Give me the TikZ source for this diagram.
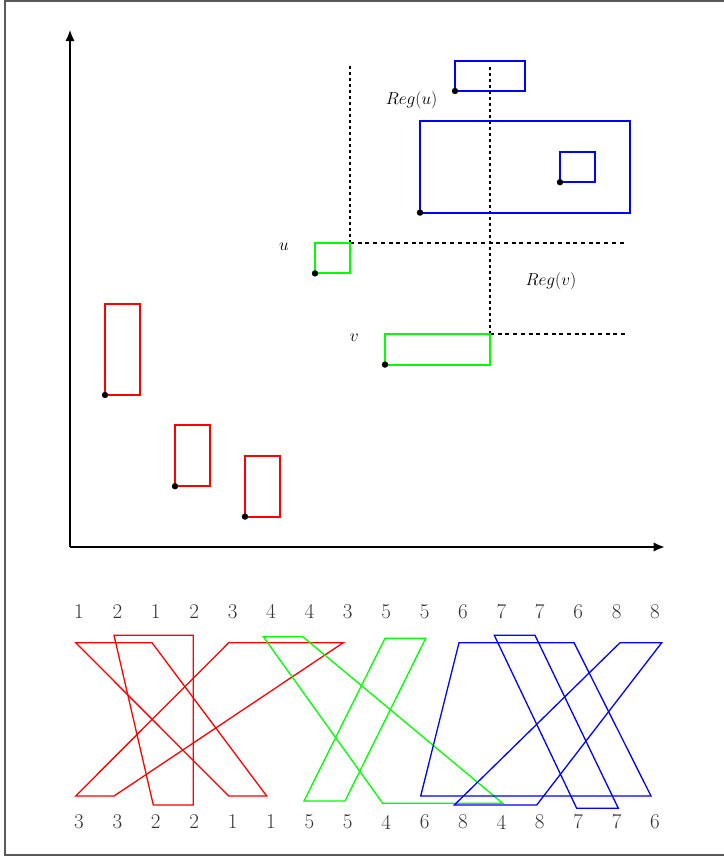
\documentclass[tikz,border=0pt]{standalone}
\usetikzlibrary{arrows.meta}
\definecolor{pred}{RGB}{255,0,0}
\definecolor{pgreen}{RGB}{0,255,0}
\definecolor{pblue}{RGB}{0,0,255}
\tikzset{
  myaxis/.style={line width=2.2pt, -{Latex[length=11.5pt,width=9.5pt]}},
  rectbox/.style={line width=2pt},
  vdotline/.style={line width=2pt, dash pattern=on 3pt off 3pt},
  hdotline/.style={line width=2pt, dash pattern=on 4pt off 3.7pt},
  perm/.style={line width=1.3pt, line join=miter},
  numlab/.style={inner sep=0pt, font=\fontsize{21}{24}\selectfont, text=black!80},
  mathlab/.style={inner sep=0pt, font=\fontsize{17}{20}\selectfont},
  framebox/.style={line width=1.2pt, draw=black!65}
}
\begin{document}
\begin{tikzpicture}[x=1pt, y=-1pt]
\useasboundingbox (0,0) rectangle (723,858);
\draw[framebox] (5,1) rectangle (740,855);

% ---------- upper part: axes and rectangles ----------
\begin{scope}[shift={(70pt,-547pt)}, x=35pt, y=30.4pt]
  \coordinate (O) at (0,0);
  \coordinate (Ytop) at (0,17.02);
  \coordinate (Xend) at (17,0);
  \draw[myaxis] (O) -- (Ytop);
  \draw[myaxis] (O) -- (Xend);

  % dotted region lines
  \coordinate (uc) at (8,10);
  \coordinate (vc) at (12,7);
  \coordinate (uup) at (8,15.85);
  \coordinate (uri) at (15.85,10);
  \coordinate (vup) at (12,15.85);
  \coordinate (vri) at (15.85,7);
  \draw[vdotline] (uc) -- (uup);
  \draw[hdotline] (uc) -- (uri);
  \draw[vdotline] (vc) -- (vup);
  \draw[hdotline] (vc) -- (vri);

  % red rectangles
  \draw[rectbox, pred] (1,5) rectangle (2,8);
  \draw[rectbox, pred] (3,2) rectangle (4,4);
  \draw[rectbox, pred] (5,1) rectangle (6,3);
  % green rectangles
  \draw[rectbox, pgreen] (7,9) rectangle (8,10);
  \draw[rectbox, pgreen] (9,6) rectangle (12,7);
  % blue rectangles
  \draw[rectbox, pblue] (11,15) rectangle (13,16);
  \draw[rectbox, pblue] (10,11) rectangle (16,14);
  \draw[rectbox, pblue] (14,12) rectangle (15,13);

  % corner dots
  \foreach \p in {(1,5),(3,2),(5,1),(7,9),(9,6),(11,15),(10,11),(14,12)}
    \fill \p circle (3.2pt);

  % labels
  \node[mathlab] (lu) at (6.11,9.88) {$u$};
  \node[mathlab] (lv) at (8.12,6.88) {$v$};
  \node[mathlab] (lregu) at (9.76,14.70) {$Reg(u)$};
  \node[mathlab] (lregv) at (13.74,8.76) {$Reg(v)$};
\end{scope}

% ---------- lower part: permutation diagram ----------
\foreach \t [count=\k] in {1,2,1,2,3,4,4,3,5,5,6,7,7,6,8,8}
  \node[numlab] (t\k) at ({79+38.4*(\k-1)},611.7) {\t};
\foreach \b [count=\k] in {3,3,2,2,1,1,5,5,4,6,8,4,8,7,7,6}
  \node[numlab] (b\k) at ({79+38.4*(\k-1)},822) {\b};

\draw[perm, pred] (75.7,642.7) -- (152,642.7) -- (266.7,796) -- (228.7,796) -- cycle;
\draw[perm, pred] (114,635.3) -- (193.3,635.3) -- (193.3,805) -- (153.3,805) -- cycle;
\draw[perm, pred] (228.7,642.7) -- (343.3,642.7) -- (114,796) -- (75.7,796) -- cycle;
\draw[perm, pgreen] (263.3,636.7) -- (302.7,636.7) -- (502.7,803.3) -- (382.7,803.3) -- cycle;
\draw[perm, pgreen] (385,638.3) -- (425.7,638.3) -- (345,801) -- (304,801) -- cycle;
\draw[perm, pblue] (459,642.7) -- (574,642.7) -- (651,796) -- (420.7,796) -- cycle;
\draw[perm, pblue] (494.3,635.3) -- (535,635.3) -- (618.3,808.3) -- (576.7,808.3) -- cycle;
\draw[perm, pblue] (620,642.7) -- (661.7,642.7) -- (536.7,805) -- (454.3,805) -- cycle;
\end{tikzpicture}
\end{document}
